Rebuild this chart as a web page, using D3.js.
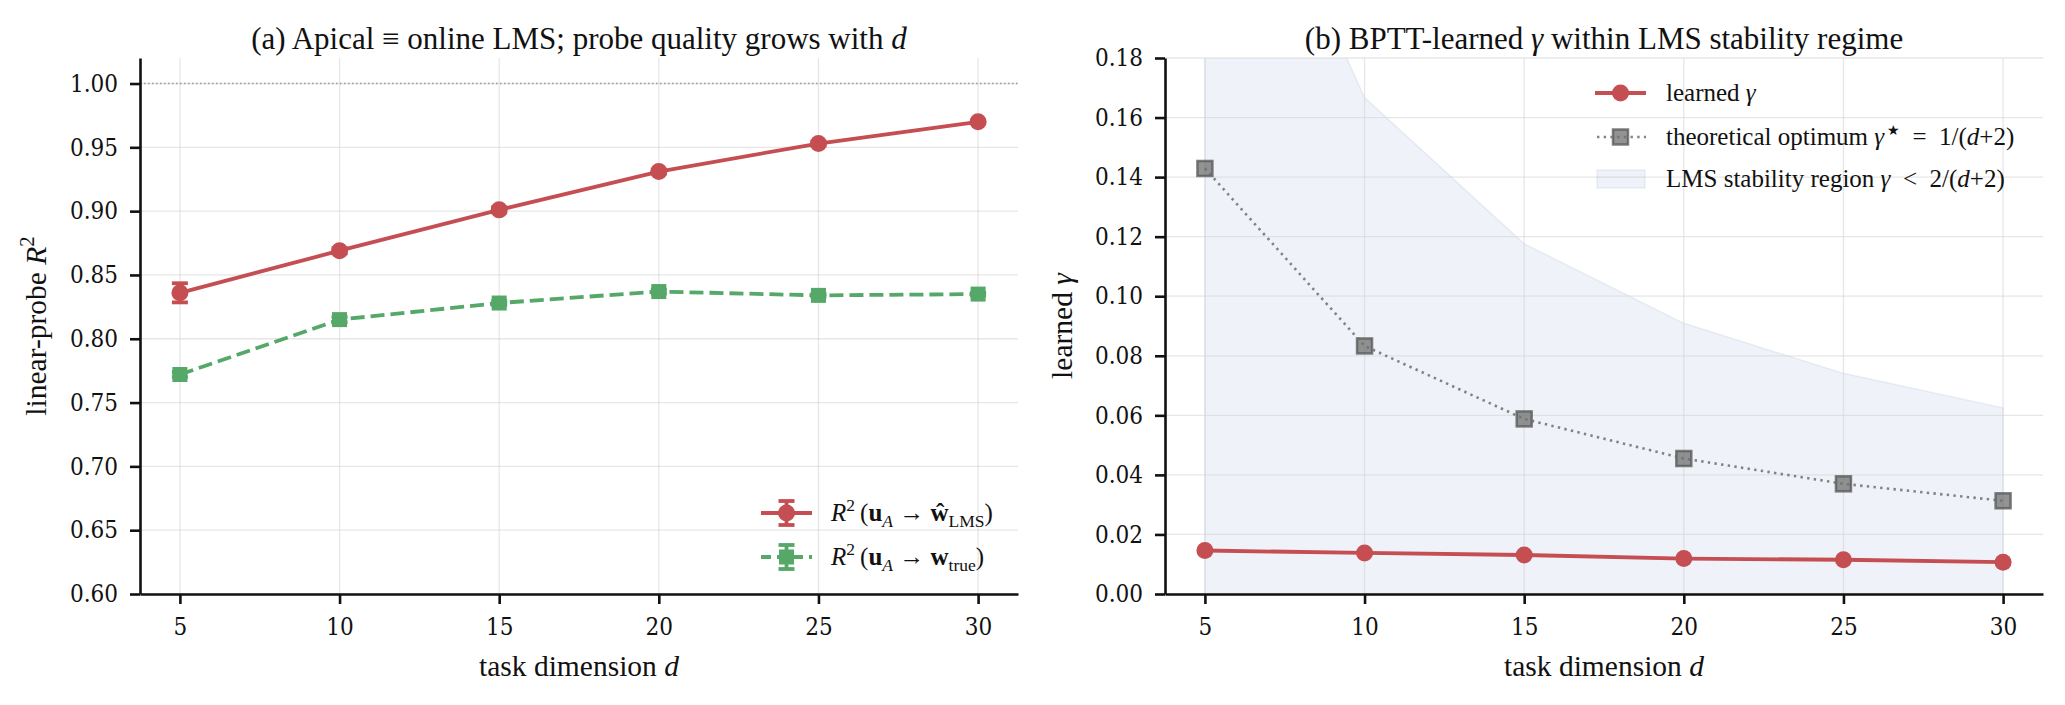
<!DOCTYPE html>
<html>
<head>
<meta charset="utf-8">
<script src="https://cdn.jsdelivr.net/npm/d3@7"></script>
<style>
body { margin: 0; background: #fff; }
svg text { font-family: "Liberation Serif", "Times New Roman", serif; fill: #111; }
</style>
</head>
<body>
<svg id="fig" width="2065" height="705"></svg>
<script>
// task dimensions (shared x)
var dims = [5, 10, 15, 20, 25, 30];
var xTicks = [5, 10, 15, 20, 25, 30];

// panel (a): linear probe R^2
var r2Lms = [0.836, 0.869, 0.901, 0.931, 0.953, 0.970];
var r2LmsErr = [0.0075, 0.002, 0.002, 0.0015, 0.0015, 0.001];
var r2True = [0.772, 0.815, 0.828, 0.837, 0.834, 0.835];
var r2TrueErr = [0.002, 0.002, 0.0015, 0.0015, 0.001, 0.001];
var yTicksA = [0.60, 0.65, 0.70, 0.75, 0.80, 0.85, 0.90, 0.95, 1.00];

// panel (b): learned gamma vs theory
var learnedGamma = [0.0146, 0.0138, 0.0131, 0.0119, 0.0115, 0.0107];
var optimumGamma = [0.1429, 0.0833, 0.0588, 0.0455, 0.0370, 0.0313];
var stabilityEdge = [0.2857, 0.1667, 0.1176, 0.0909, 0.0741, 0.0625];
var yTicksB = [0.00, 0.02, 0.04, 0.06, 0.08, 0.10, 0.12, 0.14, 0.16, 0.18];

var RED = "#c44e52", GREEN = "#55a868", GREY = "#6f6f6f", FILL = "#4c72b0";
var FS_TICK = 24, FS_LABEL = 29.5, FS_TITLE = 31, FS_LEG = 25;
var TICK_FONT = "'DejaVu Serif Condensed', 'DejaVu Serif', serif";

var svg = d3.select("#fig");

// writes a list of text parts with italic / bold / sub / sup into a text node
function mathText(sel, parts, fs) {
	var cur = 0;
	parts.forEach(function (p) {
		var shift = p.sup ? -0.4 * fs : (p.sub ? 0.22 * fs : 0);
		var ts = sel.append("tspan").text(p.t).attr("dy", shift - cur);
		cur = shift;
		if (p.sup || p.sub) ts.style("font-size", ((p.scale || 0.7) * fs) + "px");
		if (p.i) ts.style("font-style", "italic");
		if (p.b) ts.style("font-weight", "bold");
	});
}

function makePanel(cfg) {
	var x = d3.scaleLinear().domain([3.75, 31.25]).range([cfg.left, cfg.right]);
	var y = d3.scaleLinear().domain(cfg.yDomain).range([cfg.bottom, cfg.top]);
	var g = svg.append("g");

	g.append("clipPath").attr("id", cfg.id + "clip")
		.append("rect")
		.attr("x", cfg.left).attr("y", cfg.top)
		.attr("width", cfg.right - cfg.left).attr("height", cfg.bottom - cfg.top);

	var back = g.append("g").attr("clip-path", "url(#" + cfg.id + "clip)");
	var grid = g.append("g");
	grid.selectAll(".vg").data(xTicks).enter().append("line")
		.attr("x1", function (d) { return x(d); }).attr("x2", function (d) { return x(d); })
		.attr("y1", cfg.top).attr("y2", cfg.bottom)
		.style("stroke", "#d6d6d6").style("stroke-opacity", 0.6).style("stroke-width", "1.3px");
	grid.selectAll(".hg").data(cfg.yTicks).enter().append("line")
		.attr("x1", cfg.left).attr("x2", cfg.right)
		.attr("y1", function (d) { return y(d); }).attr("y2", function (d) { return y(d); })
		.style("stroke", "#d6d6d6").style("stroke-opacity", 0.6).style("stroke-width", "1.3px");

	var front = g.append("g").attr("clip-path", "url(#" + cfg.id + "clip)");

	// axes
	var xa = g.append("g").attr("transform", "translate(0," + cfg.bottom + ")")
		.call(d3.axisBottom(x).tickValues(xTicks).tickSize(10).tickPadding(14).tickSizeOuter(0).tickFormat(d3.format("d")));
	var ya = g.append("g").attr("transform", "translate(" + cfg.left + ",0)")
		.call(d3.axisLeft(y).tickValues(cfg.yTicks).tickSize(10).tickPadding(12).tickSizeOuter(0).tickFormat(d3.format(".2f")));
	[xa, ya].forEach(function (a) {
		a.attr("font-family", null).attr("font-size", null);
		a.select(".domain").style("stroke", "#111").style("stroke-width", "2.6px");
		a.selectAll(".tick line").style("stroke", "#111").style("stroke-width", "2.6px");
		a.selectAll(".tick text")
			.style("font-family", TICK_FONT)
			.style("font-size", FS_TICK + "px").attr("fill", "#111");
	});

	// x label
	var xl = g.append("text")
		.attr("x", (cfg.left + cfg.right) / 2).attr("y", 676)
		.attr("text-anchor", "middle").style("font-size", FS_LABEL + "px");
	mathText(xl, [{ t: "task dimension " }, { t: "d", i: true }], FS_LABEL);

	// y label
	var yl = g.append("text")
		.attr("transform", "translate(" + cfg.ylabX + "," + ((cfg.top + cfg.bottom) / 2) + ") rotate(-90)")
		.attr("text-anchor", "middle").style("font-size", FS_LABEL + "px");
	mathText(yl, cfg.ylabel, FS_LABEL);

	// title
	var tt = g.append("text")
		.attr("x", (cfg.left + cfg.right) / 2).attr("y", 49)
		.attr("text-anchor", "middle").style("font-size", FS_TITLE + "px");
	mathText(tt, cfg.title, FS_TITLE);

	return { x: x, y: y, back: back, front: front, g: g };
}

function errorSeries(p, vals, errs, color, shape, dash) {
	var line = d3.line().x(function (d, i) { return p.x(dims[i]); }).y(function (d) { return p.y(d); });
	p.front.append("path").datum(vals)
		.attr("d", line)
		.style("fill", "none").style("stroke", color).style("stroke-width", "3.8px")
		.style("stroke-dasharray", dash ? "14,6" : null);
	var eb = p.front.selectAll(null).data(vals).enter().append("g");
	eb.append("line")
		.attr("x1", function (d, i) { return p.x(dims[i]); }).attr("x2", function (d, i) { return p.x(dims[i]); })
		.attr("y1", function (d, i) { return p.y(d - errs[i]); }).attr("y2", function (d, i) { return p.y(d + errs[i]); })
		.style("stroke", color).style("stroke-width", "3.8px");
	[-1, 1].forEach(function (s) {
		eb.append("line")
			.attr("x1", function (d, i) { return p.x(dims[i]) - 8; }).attr("x2", function (d, i) { return p.x(dims[i]) + 8; })
			.attr("y1", function (d, i) { return p.y(d + s * errs[i]); }).attr("y2", function (d, i) { return p.y(d + s * errs[i]); })
			.style("stroke", color).style("stroke-width", "3.8px");
	});
	drawMarkers(p.front, vals, p, color, shape);
}

function drawMarkers(target, vals, p, color, shape, stroke, opacity) {
	if (shape === "circle") {
		target.selectAll(null).data(vals).enter().append("circle")
			.attr("cx", function (d, i) { return p.x(dims[i]); })
			.attr("cy", function (d) { return p.y(d); })
			.attr("r", 8.5).style("fill", color);
	} else {
		target.selectAll(null).data(vals).enter().append("rect")
			.attr("x", function (d, i) { return p.x(dims[i]) - 7.5; })
			.attr("y", function (d) { return p.y(d) - 7.5; })
			.attr("width", 15).attr("height", 15)
			.style("fill", color).style("fill-opacity", opacity == null ? 1 : opacity)
			.style("stroke", stroke || "none").style("stroke-width", "2.5px")
			.style("stroke-opacity", opacity == null ? 1 : opacity);
	}
}

// ---------- panel (a)
var pa = makePanel({
	id: "a", left: 140, right: 1018, top: 58, bottom: 594,
	yDomain: [0.60, 1.02], yTicks: yTicksA, ylabX: 46,
	ylabel: [{ t: "linear-probe " }, { t: "R", i: true }, { t: "2", sup: true }],
	title: [{ t: "(a) Apical \u2261 online LMS; probe quality grows with " }, { t: "d", i: true }]
});

pa.front.append("line")
	.attr("x1", 140).attr("x2", 1018).attr("y1", pa.y(1.0)).attr("y2", pa.y(1.0))
	.style("stroke", "#999").style("stroke-width", "1.5px").style("stroke-dasharray", "1.5,2.5");

errorSeries(pa, r2True, r2TrueErr, GREEN, "square", true);
errorSeries(pa, r2Lms, r2LmsErr, RED, "circle", false);

// legend (a)
var legA = [
	{ color: RED, shape: "circle", dash: null, y: 513,
	  label: [{ t: "R", i: true }, { t: "2", sup: true }, { t: "\u2009(" }, { t: "u", b: true }, { t: "A", sub: true, i: true }, { t: " \u2192 " }, { t: "\u0175", b: true }, { t: "LMS", sub: true }, { t: ")" }] },
	{ color: GREEN, shape: "square", dash: "10,6", y: 557,
	  label: [{ t: "R", i: true }, { t: "2", sup: true }, { t: "\u2009(" }, { t: "u", b: true }, { t: "A", sub: true, i: true }, { t: " \u2192 " }, { t: "w", b: true }, { t: "true", sub: true }, { t: ")" }] }
];
legA.forEach(function (it) {
	var lg = pa.g.append("g");
	lg.append("line").attr("x1", 761).attr("x2", 812).attr("y1", it.y).attr("y2", it.y)
		.style("stroke", it.color).style("stroke-width", "3.8px").style("stroke-dasharray", it.dash);
	lg.append("line").attr("x1", 786.5).attr("x2", 786.5).attr("y1", it.y - 12).attr("y2", it.y + 12)
		.style("stroke", it.color).style("stroke-width", "3.8px");
	[-12, 12].forEach(function (o) {
		lg.append("line").attr("x1", 778.5).attr("x2", 794.5).attr("y1", it.y + o).attr("y2", it.y + o)
			.style("stroke", it.color).style("stroke-width", "3.8px");
	});
	if (it.shape === "circle") lg.append("circle").attr("cx", 786.5).attr("cy", it.y).attr("r", 8.5).style("fill", it.color);
	else lg.append("rect").attr("x", 779).attr("y", it.y - 7.5).attr("width", 15).attr("height", 15).style("fill", it.color);
	var t = lg.append("text").attr("x", 831).attr("y", it.y + 8).style("font-size", FS_LEG + "px");
	mathText(t, it.label, FS_LEG);
});

// ---------- panel (b)
var pb = makePanel({
	id: "b", left: 1165, right: 2043, top: 58, bottom: 594,
	yDomain: [0, 0.18], yTicks: yTicksB, ylabX: 1072,
	ylabel: [{ t: "learned " }, { t: "\u03b3", i: true }],
	title: [{ t: "(b) BPTT-learned " }, { t: "\u03b3", i: true }, { t: " within LMS stability regime" }]
});

var area = d3.area()
	.x(function (d, i) { return pb.x(dims[i]); })
	.y0(pb.y(0))
	.y1(function (d) { return pb.y(d); });
pb.back.append("path").datum(stabilityEdge)
	.attr("d", area)
	.style("fill", FILL).style("fill-opacity", 0.09)
	.style("stroke", FILL).style("stroke-opacity", 0.1).style("stroke-width", "1.5px");

var lineB = d3.line().x(function (d, i) { return pb.x(dims[i]); }).y(function (d) { return pb.y(d); });
drawMarkers(pb.front, optimumGamma, pb, GREY, "square", "#555", 0.75);
pb.front.append("path").datum(optimumGamma)
	.attr("d", lineB)
	.style("fill", "none").style("stroke", GREY).style("stroke-opacity", 0.85).style("stroke-width", "2.6px")
	.style("stroke-dasharray", "2.4,4.3");

pb.front.append("path").datum(learnedGamma)
	.attr("d", lineB)
	.style("fill", "none").style("stroke", RED).style("stroke-width", "3.8px");
drawMarkers(pb.front, learnedGamma, pb, RED, "circle");

// legend (b)
var lb = pb.g.append("g");
lb.append("line").attr("x1", 1595).attr("x2", 1646).attr("y1", 93).attr("y2", 93)
	.style("stroke", RED).style("stroke-width", "3.8px");
lb.append("circle").attr("cx", 1620.5).attr("cy", 93).attr("r", 8.5).style("fill", RED);
lb.append("rect").attr("x", 1613).attr("y", 129.5).attr("width", 15).attr("height", 15)
	.style("fill", GREY).style("fill-opacity", 0.75).style("stroke", "#555").style("stroke-opacity", 0.75).style("stroke-width", "2.5px");
lb.append("line").attr("x1", 1597).attr("x2", 1646).attr("y1", 137).attr("y2", 137)
	.style("stroke", GREY).style("stroke-opacity", 0.85).style("stroke-width", "2.6px").style("stroke-dasharray", "2.4,4.3");
lb.append("rect").attr("x", 1597).attr("y", 170).attr("width", 48).attr("height", 18)
	.style("fill", FILL).style("fill-opacity", 0.09)
	.style("stroke", FILL).style("stroke-opacity", 0.1).style("stroke-width", "1.5px");

var legBLabels = [
	[{ t: "learned " }, { t: "\u03b3", i: true }],
	[{ t: "theoretical optimum " }, { t: "\u03b3", i: true }, { t: "\u2009\u2605", sup: true, scale: 0.55 }, { t: "\u2002=\u20021/(" }, { t: "d", i: true }, { t: "+2)" }],
	[{ t: "LMS stability region " }, { t: "\u03b3", i: true }, { t: "\u2002<\u20022/(" }, { t: "d", i: true }, { t: "+2)" }]
];
[93, 137, 179].forEach(function (yy, k) {
	var t = lb.append("text").attr("x", 1666).attr("y", yy + 8).style("font-size", FS_LEG + "px");
	mathText(t, legBLabels[k], FS_LEG);
});
</script>
</body>
</html>
